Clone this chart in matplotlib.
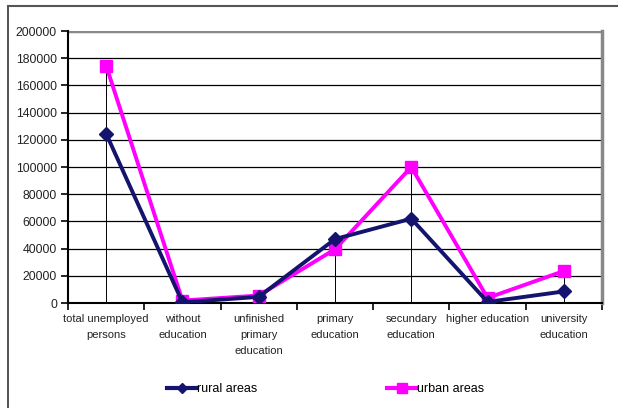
import matplotlib
matplotlib.use("Agg")
import matplotlib.pyplot as plt
from matplotlib.lines import Line2D
import numpy as np

categories = ["total unemployed\npersons", "without\neducation", "unfinished\nprimary\neducation",
              "primary\neducation", "secundary\neducation", "higher education", "university\neducation"]
rural = [124500, 500, 4500, 47000, 62000, 800, 8500]
urban = [174500, 1800, 5500, 39500, 100000, 3700, 23500]
yticks = [0, 20000, 40000, 60000, 80000, 100000, 120000, 140000, 160000, 180000, 200000]

plt.rcParams['font.family'] = ['Liberation Sans', 'DejaVu Sans']

W, H = 618, 408
fig = plt.figure(figsize=(W/100, H/100), dpi=100)
ax = fig.add_axes([68/W, 1-303/H, (602-68)/W, (303-31)/H])

x = np.arange(len(categories))
rural_c = '#14146e'
urban_c = '#ff00ff'

for yv in yticks[1:]:
    ax.axhline(yv, color='black', lw=0.9, zorder=1)
ax.axhline(200000, color='#888888', lw=2.5, zorder=2)

top = np.maximum(rural, urban)
ax.vlines(x, 0, top, color='black', lw=0.7, zorder=2)

ax.plot(x, rural, color=rural_c, lw=2.8, marker='D', ms=7, zorder=4)
ax.plot(x, urban, color=urban_c, lw=2.8, marker='s', ms=9, zorder=3)

ax.set_xlim(-0.5, len(categories)-0.5)
ax.set_ylim(0, 200000)
ax.set_yticks(yticks)
ax.set_yticklabels([str(v) for v in yticks], fontsize=8.8, color='#222222')
ax.set_xticks(x)
ax.set_xticklabels(categories, fontsize=8, color='#222222', linespacing=1.75)
ax.tick_params(axis='x', which='major', length=0, pad=8)
ax.set_xticks(np.arange(-0.5, len(categories)), minor=True)
ax.tick_params(axis='x', which='minor', length=5, width=1.2, direction='out')
ax.tick_params(axis='y', length=5, width=1.2, direction='out', pad=3)

for s in ['left', 'bottom']:
    ax.spines[s].set_color('black')
    ax.spines[s].set_linewidth(1.5)
ax.spines['top'].set_visible(False)
ax.spines['right'].set_color('#888888')
ax.spines['right'].set_linewidth(2.5)

# outer frame
fig.add_artist(Line2D([8/W, 8/W], [0, 1-6/H], color='#333333', lw=1.2, transform=fig.transFigure))
fig.add_artist(Line2D([8/W, 1], [1-6/H, 1-6/H], color='#555555', lw=1.5, transform=fig.transFigure))

h1 = Line2D([], [], color=rural_c, lw=3, marker='D', ms=5)
h2 = Line2D([], [], color=urban_c, lw=3, marker='s', ms=7)
fig.legend([h1], ['rural areas'], loc='center left', bbox_to_anchor=(161/W, 1-389/H),
           frameon=False, fontsize=9, handlelength=2.4, handletextpad=0.0, borderpad=0)
fig.legend([h2], ['urban areas'], loc='center left', bbox_to_anchor=(381/W, 1-389/H),
           frameon=False, fontsize=9, handlelength=2.4, handletextpad=0.0, borderpad=0)

fig.savefig("out.png", dpi=100)
